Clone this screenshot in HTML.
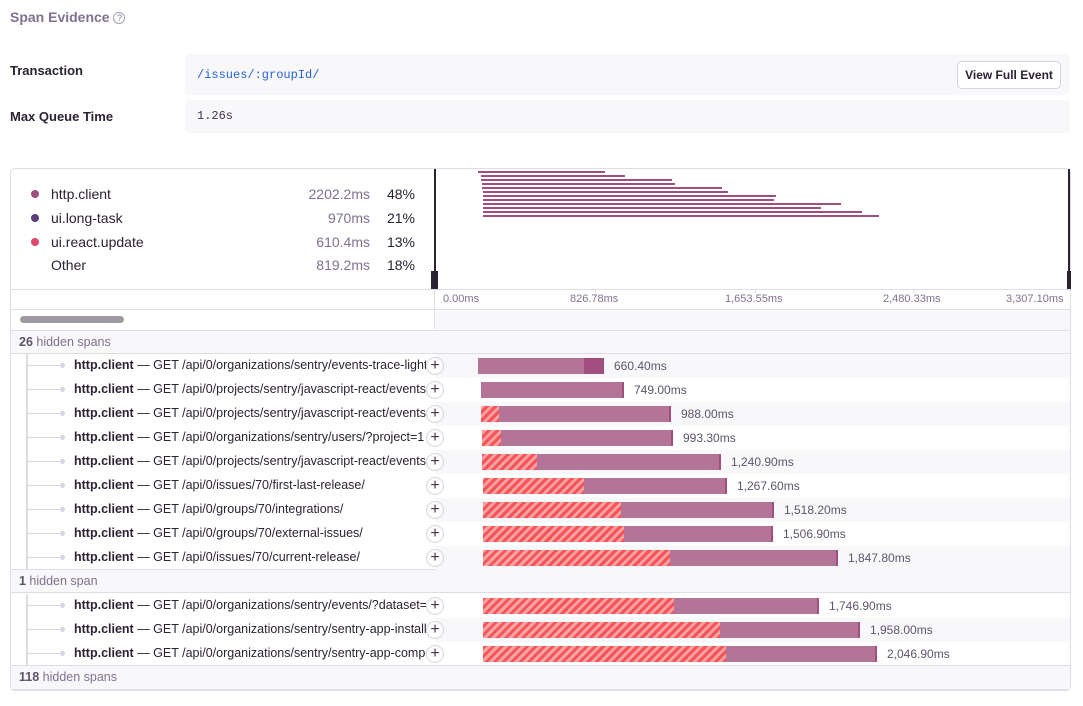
<!DOCTYPE html>
<html><head><meta charset="utf-8"><style>
*{margin:0;padding:0;box-sizing:border-box}
body{width:1083px;height:706px;background:#fff;font-family:"Liberation Sans",sans-serif;color:#2b2233;position:relative;overflow:hidden}
.a{position:absolute}
.mono{font-family:"Liberation Mono",monospace}
.hatch{background:repeating-linear-gradient(-45deg,#f55459 0 3px,#f7a3a3 3px 6px)}
.bar{background:#b47497}
.lbl{font-size:12px;color:#5e546b}
.tk{font-size:11px;color:#80708f;top:293px}
.txt{font-size:12.5px;white-space:nowrap;overflow:hidden;width:352px}
.plus{width:18px;height:18px;border:1px solid #d8d3de;border-radius:50%;background:#fff;font-size:16px;line-height:15px;text-align:center;color:#3e3446}
.lg{font-size:14px;line-height:16px}
.num{left:270px;width:100px;text-align:right;font-size:14px;color:#80708f;line-height:16px}
.pct{left:380px;width:35px;text-align:right;font-size:14px;line-height:16px}
</style></head><body>
<div class="a" style="left:10px;top:9px;font-size:14px;font-weight:bold;color:#80708f">Span Evidence <span style="display:inline-block;width:12px;height:12px;border:1px solid #a89fb3;border-radius:50%;font-size:9px;line-height:10px;text-align:center;font-weight:normal;vertical-align:1px">?</span></div>
<div class="a" style="left:10px;top:63px;font-size:13px;font-weight:bold">Transaction</div>
<div class="a" style="left:185px;top:54px;width:885px;height:41px;background:#f8f8fa;border-radius:4px"></div>
<div class="a mono" style="left:197px;top:68px;font-size:12px;color:#2562d4">/issues/:groupId/</div>
<div class="a" style="left:957px;top:61px;width:104px;height:28px;border:1px solid #d8d3de;border-radius:5px;background:#fff;font-size:12px;font-weight:bold;text-align:center;line-height:26px">View Full Event</div>
<div class="a" style="left:10px;top:109px;font-size:13px;font-weight:bold">Max Queue Time</div>
<div class="a" style="left:185px;top:100px;width:885px;height:33px;background:#f8f8fa;border-radius:4px"></div>
<div class="a mono" style="left:197px;top:109px;font-size:12px;color:#3e3446">1.26s</div>

<div class="a" style="left:10px;top:168px;width:1061px;height:523px;border:1px solid #e0dce5;border-radius:5px"></div>
<!-- legend -->
<div class="a" style="left:31px;top:190px;width:8px;height:8px;border-radius:50%;background:#a24e7f"></div>
<div class="a" style="left:31px;top:214px;width:8px;height:8px;border-radius:50%;background:#5b3f78"></div>
<div class="a" style="left:31px;top:238px;width:8px;height:8px;border-radius:50%;background:#e0476c"></div>
<div class="a lg" style="left:51px;top:186px">http.client</div>
<div class="a lg" style="left:51px;top:210px">ui.long-task</div>
<div class="a lg" style="left:51px;top:234px">ui.react.update</div>
<div class="a lg" style="left:51px;top:257px">Other</div>
<div class="a num" style="top:186px">2202.2ms</div>
<div class="a num" style="top:210px">970ms</div>
<div class="a num" style="top:234px">610.4ms</div>
<div class="a num" style="top:257px">819.2ms</div>
<div class="a pct" style="top:186px">48%</div>
<div class="a pct" style="top:210px">21%</div>
<div class="a pct" style="top:234px">13%</div>
<div class="a pct" style="top:257px">18%</div>
<!-- minimap -->
<div class="a" style="left:434px;top:169px;width:1px;height:160px;background:#e0dce5"></div>
<div class="a" style="left:434px;top:169px;width:2px;height:120px;background:#2b2233"></div>
<div class="a" style="left:431px;top:271px;width:7px;height:18px;background:#2b2233"></div>
<div class="a" style="left:1068px;top:169px;width:2px;height:120px;background:#2b2233"></div>
<div class="a" style="left:1067px;top:271px;width:4px;height:18px;background:#2b2233"></div>
<div class="a" style="left:11px;top:289px;width:1059px;height:1px;background:#e0dce5"></div>
<div class="a" style="left:435px;top:309px;width:635px;height:21px;background:#f8f8fa"></div>
<div class="a" style="left:11px;top:309px;width:1059px;height:1px;background:#e0dce5"></div>
<div class="a" style="left:20px;top:316px;width:104px;height:7px;border-radius:4px;background:#9e99a3"></div>
<div class="a tk" style="left:443px">0.00ms</div>
<div class="a tk" style="left:570px">826.78ms</div>
<div class="a tk" style="left:725px">1,653.55ms</div>
<div class="a tk" style="left:883px">2,480.33ms</div>
<div class="a tk" style="left:1006px">3,307.10ms</div>
<div class="a" style="left:595px;top:289px;width:1px;height:4px;background:#ddd"></div>
<div class="a" style="left:755px;top:289px;width:1px;height:4px;background:#ddd"></div>
<div class="a" style="left:914px;top:289px;width:1px;height:4px;background:#ddd"></div>
<div id="mm"></div>
<div id="rows"></div>
<script>
var mm=[[478,605],[481,625],[481,672],[482,675],[482,722],[483,728],[483,776],[483,774],[483,841],[483,821],[483,862],[483,879]];
var h='';mm.forEach(function(b,i){h+='<div class="a" style="left:'+b[0]+'px;top:'+(171+i*4)+'px;width:'+(b[1]-b[0])+'px;height:2px;background:#a24e7f"></div>'});
document.getElementById('mm').innerHTML=h;
var rows=[
["GET /api/0/organizations/sentry/events-trace-light/",478,0,604,"660.40ms"],
["GET /api/0/projects/sentry/javascript-react/events/",481,0,624,"749.00ms"],
["GET /api/0/projects/sentry/javascript-react/events/",481,499,671,"988.00ms"],
["GET /api/0/organizations/sentry/users/?project=1",482,501,673,"993.30ms"],
["GET /api/0/projects/sentry/javascript-react/events/",482,537,721,"1,240.90ms"],
["GET /api/0/issues/70/first-last-release/",483,584,727,"1,267.60ms"],
["GET /api/0/groups/70/integrations/",483,621,774,"1,518.20ms"],
["GET /api/0/groups/70/external-issues/",483,624,773,"1,506.90ms"],
["GET /api/0/issues/70/current-release/",483,670,838,"1,847.80ms"],
["GET /api/0/organizations/sentry/events/?dataset=",483,674,819,"1,746.90ms"],
["GET /api/0/organizations/sentry/sentry-app-installations/",483,720,860,"1,958.00ms"],
["GET /api/0/organizations/sentry/sentry-app-components/",483,726,877,"2,046.90ms"]];
var r='';
function hid(y,t){r+='<div class="a" style="left:11px;top:'+y+'px;width:1059px;height:'+(y==665?25:24)+'px;background:#f8f8fa;border-top:1px solid #e0dce5;border-bottom:1px solid #e0dce5"></div><div class="a" style="left:19px;top:'+(y+5)+'px;font-size:12.5px;color:#80708f">'+t+'</div>';}
hid(330,'<b style="color:#5e546b">26</b> hidden spans');
hid(569,'<b style="color:#5e546b">1</b> hidden span');
hid(665,'<b style="color:#5e546b">118</b> hidden spans');
rows.forEach(function(d,i){
 var y=i<9?354+i*24:594+(i-9)*24;
 if(i%2==0) r+='<div class="a" style="left:435px;top:'+y+'px;width:635px;height:24px;background:#f8f8fa"></div>';
 r+='<div class="a" style="left:27px;top:'+(y+11)+'px;width:34px;height:1px;background:#d8d3de"></div><div class="a" style="left:60px;top:'+(y+9)+'px;width:5px;height:5px;border-radius:50%;background:#d8d3de"></div>';
 r+='<div class="a txt" style="left:74px;top:'+(y+4)+'px"><b>http.client</b> \u2014 '+d[0]+'</div>';
 r+='<div class="a plus" style="left:426px;top:'+(y+3)+'px">+</div>';
 if(d[2]) r+='<div class="a hatch" style="left:'+d[1]+'px;top:'+(y+4)+'px;width:'+(d[2]-d[1])+'px;height:16px"></div>';
 var s=d[2]||d[1];
 if(i==0){r+='<div class="a bar" style="left:478px;top:'+(y+4)+'px;width:106px;height:16px"></div><div class="a" style="left:584px;top:'+(y+4)+'px;width:20px;height:16px;background:#a24e7f"></div>';}
 else r+='<div class="a bar" style="left:'+s+'px;top:'+(y+4)+'px;width:'+(d[3]-s)+'px;height:16px;border-right:2px solid #a24e7f"></div>';
 r+='<div class="a lbl" style="left:'+(d[3]+10)+'px;top:'+(y+5)+'px">'+d[4]+'</div>';
});
r+='<div class="a" style="left:26px;top:354px;width:2px;height:215px;background:#e0dce5"></div><div class="a" style="left:26px;top:594px;width:2px;height:71px;background:#e0dce5"></div>';
document.getElementById('rows').innerHTML=r;
</script>
</body></html>
